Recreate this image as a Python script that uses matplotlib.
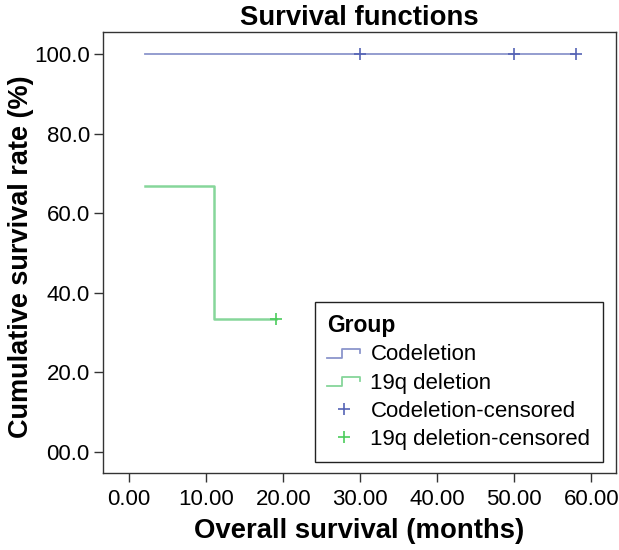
import matplotlib
matplotlib.use('Agg')
import matplotlib.pyplot as plt
from matplotlib.lines import Line2D
from matplotlib.legend_handler import HandlerBase

plt.rcParams['font.family'] = ['Liberation Sans', 'DejaVu Sans']

# step curves (time in months, survival in %)
codel_t = [2, 58]
codel_s = [100.0, 100.0]
codel_cens_t = [30, 50, 58]
codel_cens_s = [100.0, 100.0, 100.0]

del19_t = [2, 11, 19]
del19_s = [66.7, 33.3, 33.3]
del19_cens_t = [19]
del19_cens_s = [33.3]

xticks = [0, 10, 20, 30, 40, 50, 60]
yticks = [0, 20, 40, 60, 80, 100]

blue = '#8b95cc'
green = '#86d69a'
blue_mk = '#5563b5'
green_mk = '#4ccc5c'


class StepHandler(HandlerBase):
    def create_artists(self, legend, orig, xd, yd, width, height, fontsize, trans):
        x0, x1 = -xd, -xd + width
        ylo, yhi = -yd + height * 0.15, -yd + height * 0.75
        xs = [x0, x0 + width * 0.45, x0 + width * 0.45, x1, x1]
        ys = [ylo, ylo, yhi, yhi, yhi - height * 0.25]
        ln = Line2D(xs, ys, color=orig.get_color(), lw=1.3, transform=trans)
        return [ln]


fig = plt.figure(figsize=(6.19, 5.5), dpi=100)
ax = fig.add_axes([0.1664, 0.14, 0.8286, 0.8018])

l1, = ax.step(codel_t, codel_s, where='post', color=blue, lw=1.3)
l2, = ax.step(del19_t, del19_s, where='post', color=green, lw=1.8)
m1, = ax.plot(codel_cens_t, codel_cens_s, '+', color=blue_mk, ms=8, mew=1.2, ls='none')
m2, = ax.plot(del19_cens_t, del19_cens_s, '+', color=green_mk, ms=8, mew=1.2, ls='none')

ax.set_xlim(-3.4, 63.2)
ax.set_ylim(-5.3, 105.5)
ax.set_xticks(xticks)
ax.set_xticklabels([f'{v:.2f}' for v in xticks])
ax.set_yticks(yticks)
ax.set_yticklabels(['00.0' if v == 0 else f'{v:.1f}' for v in yticks])
ax.tick_params(labelsize=16, length=6.5, width=1, color='#333333')
ax.tick_params(axis='y', pad=3)
ax.tick_params(axis='x', pad=5)
for sp in ax.spines.values():
    sp.set_color('#333333')
    sp.set_linewidth(1)

ax.set_title('Survival functions', fontsize=19.8, fontweight='bold', pad=5)
ax.set_xlabel('Overall survival (months)', fontsize=19.8, fontweight='bold', labelpad=6)
ax.set_ylabel('Cumulative survival rate (%)', fontsize=19.5, fontweight='bold')
ax.yaxis.set_label_coords(-0.134, 0.49)

leg = ax.legend([l1, l2, m1, m2],
                ['Codeletion', '19q deletion', 'Codeletion-censored', '19q deletion-censored'],
                handler_map={l1: StepHandler(), l2: StepHandler()},
                title='Group', loc='lower left', bbox_to_anchor=(0.413, 0.025),
                fontsize=16, title_fontproperties={'weight': 'bold', 'size': 16.5},
                frameon=True, fancybox=False, edgecolor='#222222', framealpha=1,
                handlelength=1.5, handletextpad=0.45, labelspacing=0.32,
                borderpad=0.55, borderaxespad=0, alignment='left')
leg.get_frame().set_linewidth(1)

fig.savefig('out.png', dpi=100)
